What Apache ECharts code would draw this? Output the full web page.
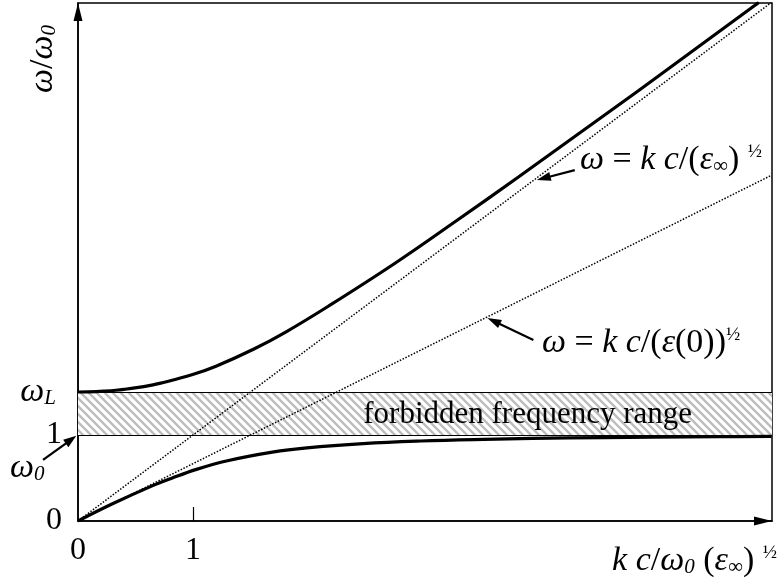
<!DOCTYPE html>
<html>
<head>
<meta charset="utf-8">
<script src="https://cdn.jsdelivr.net/npm/echarts@6/dist/echarts.min.js"></script>
<style>
  html, body { margin: 0; padding: 0; background: #fff; }
  #main { width: 784px; height: 587px; }
</style>
</head>
<body>
<div id="main"></div>
<script>
// Phonon-polariton dispersion: reduced frequency ω/ω0 versus reduced wavevector k c/(ω0 √ε∞)

// Upper polariton branch
const upperX = [0, 0.16, 0.23, 0.33, 0.40, 0.51, 0.64, 0.71, 0.99, 1.20, 1.53, 1.81, 2.18, 2.76, 3.30, 3.83, 4.35, 4.87, 5.38, 5.89, 5.92];
const upperY = [1.5, 1.505, 1.51, 1.52, 1.53, 1.55, 1.58, 1.60, 1.70, 1.80, 2.00, 2.20, 2.50, 3.00, 3.50, 4.00, 4.50, 5.00, 5.50, 6.00, 6.03];

// Lower polariton branch
const lowerX = [0, 0.30, 0.63, 0.82, 1.03, 1.30, 1.69, 1.99, 2.48, 2.98, 3.53, 3.95, 4.57, 5.00, 5.59, 6.03];
const lowerY = [0, 0.20, 0.40, 0.50, 0.60, 0.70, 0.80, 0.85, 0.90, 0.93, 0.95, 0.96, 0.97, 0.975, 0.98, 0.983];

// Light lines: ω = k c/√ε∞ and ω = k c/√ε(0)
const lightInfX = [0, 6.03];
const lightInfY = [0, 6.03];
const lightZeroX = [0, 6.03];
const lightZeroY = [0, 4.02];

// Forbidden band limits (ω0 and ωL)
const bandLow = 1.0;
const bandHigh = 1.5;

// Axis ranges and tick labels
const xMax = 6.035;
const yMax = 6.023;
const xTickValues = [0, 1];
const yTickValues = [0, 1];

const FF = '"Liberation Serif", "Times New Roman", serif';

function pairs(xs, ys) { return xs.map((x, i) => [x, ys[i]]); }

function hatchPattern() {
  const c = document.createElement('canvas');
  c.width = 8; c.height = 8;
  const g = c.getContext('2d');
  g.fillStyle = '#ffffff';
  g.fillRect(0, 0, 8, 8);
  g.strokeStyle = '#bdbdbd';
  g.lineWidth = 2.3;
  g.beginPath();
  g.moveTo(-4, -4); g.lineTo(12, 12);
  g.moveTo(-4, 4); g.lineTo(4, 12);
  g.moveTo(4, -4); g.lineTo(12, 4);
  g.stroke();
  return c;
}

const chart = echarts.init(document.getElementById('main'), null, { renderer: 'canvas' });

const axisLineStyle = { color: '#000', width: 1.5 };

chart.setOption({
  animation: false,
  backgroundColor: '#fff',
  grid: { left: 78, right: 12, top: 3, bottom: 66, show: true, borderColor: '#000', borderWidth: 1.5, backgroundColor: 'transparent' },
  xAxis: {
    type: 'value', min: 0, max: xMax,
    axisLine: { show: true, onZero: false, lineStyle: axisLineStyle, symbol: ['none', 'triangle'], symbolSize: [9, 18], symbolOffset: [0, -9] },
    axisTick: { show: true, inside: true, length: 14, customValues: [1], lineStyle: { color: '#000', width: 1.2 } },
    axisLabel: { customValues: xTickValues, color: '#000', fontFamily: FF, fontSize: 32, margin: 14 },
    splitLine: { show: false }
  },
  yAxis: {
    type: 'value', min: 0, max: yMax,
    axisLine: { show: true, onZero: false, lineStyle: axisLineStyle, symbol: ['none', 'triangle'], symbolSize: [9, 18], symbolOffset: [0, -9] },
    axisTick: { show: false },
    axisLabel: { customValues: yTickValues, color: '#000', fontFamily: FF, fontSize: 32, margin: 16 },
    splitLine: { show: false }
  },
  series: [
    {
      name: 'band', type: 'line', data: [], silent: true,
      markArea: {
        silent: true,
        itemStyle: { color: { image: hatchPattern(), repeat: 'repeat' }, opacity: 1, borderWidth: 0 },
        data: [[{ yAxis: bandLow }, { yAxis: bandHigh }]]
      },
      markLine: {
        silent: true, symbol: 'none', label: { show: false },
        lineStyle: { color: '#000', width: 1.2, type: 'solid', opacity: 1 },
        data: [{ yAxis: bandLow }, { yAxis: bandHigh }]
      }
    },
    {
      name: 'light ε∞', type: 'line', data: pairs(lightInfX, lightInfY), symbol: 'none', z: 3,
      lineStyle: { color: '#000', width: 1.5, type: [1.5, 1.6] }
    },
    {
      name: 'light ε(0)', type: 'line', data: pairs(lightZeroX, lightZeroY), symbol: 'none', z: 3,
      lineStyle: { color: '#000', width: 1.5, type: [1.5, 1.6] }
    },
    {
      name: 'upper', type: 'line', data: pairs(upperX, upperY), symbol: 'none', smooth: 0.4, z: 4,
      lineStyle: { color: '#000', width: 3.2 }
    },
    {
      name: 'lower', type: 'line', data: pairs(lowerX, lowerY), symbol: 'none', smooth: 0.4, z: 4,
      lineStyle: { color: '#000', width: 3.2 }
    }
  ]
});

// Annotation text and arrows
function px(x, y) { return chart.convertToPixel({ gridIndex: 0 }, [x, y]); }

function arrow(p0, p1, head, w) {
  const dx = p1[0] - p0[0], dy = p1[1] - p0[1];
  const L = Math.hypot(dx, dy), ux = dx / L, uy = dy / L;
  const bx = p1[0] - ux * head, by = p1[1] - uy * head;
  return [
    { type: 'line', silent: true, z: 10, shape: { x1: p0[0], y1: p0[1], x2: bx + ux * 2, y2: by + uy * 2 }, style: { stroke: '#000', lineWidth: 2.2 } },
    { type: 'polygon', silent: true, z: 10, shape: { points: [[p1[0], p1[1]], [bx - uy * w / 2, by + ux * w / 2], [bx + uy * w / 2, by - ux * w / 2]] }, style: { fill: '#000' } }
  ];
}

function rich(size) {
  return {
    i: { fontFamily: FF, fontStyle: 'italic', fontSize: size, lineHeight: size, fill: '#000' },
    r: { fontFamily: FF, fontSize: size, lineHeight: size, fill: '#000' },
    sub: { fontFamily: FF, fontSize: Math.round(size * 0.62), lineHeight: 14, verticalAlign: 'bottom', fill: '#000' },
    isub: { fontFamily: FF, fontStyle: 'italic', fontSize: Math.round(size * 0.62), lineHeight: 12, verticalAlign: 'bottom', fill: '#000' },
    sup: { fontFamily: FF, fontSize: Math.round(size * 0.56), lineHeight: 24, verticalAlign: 'top', fill: '#000' }
  };
}

function label(x, y, text, size, align, extra) {
  return Object.assign({
    type: 'text', silent: true, z: 11, x: x, y: y,
    style: { text: text, rich: rich(size), align: align, verticalAlign: 'middle', fontFamily: FF, fontSize: size, fill: '#000' }
  }, extra || {});
}

const FS = 34;
const graphics = [];

// forbidden band caption
const bandMid = px(3.91, (bandLow + bandHigh) / 2);
graphics.push({
  type: 'text', silent: true, z: 11, x: bandMid[0], y: bandMid[1] + 1,
  style: { text: 'forbidden frequency range', fontFamily: FF, fontSize: 31, fill: '#000', align: 'center', verticalAlign: 'middle' }
});

// ωL and ω0 labels on the frequency axis
const wl = px(0, bandHigh);
graphics.push(label(wl[0] - 22, wl[1], '{i|ω}{isub|L}', FS, 'right'));
graphics.push(label(10, 468, '{i|ω}{isub|0}', FS, 'left'));
graphics.push(...arrow(px(-0.304, 0.71), px(-0.015, bandLow - 0.01), 13, 9));

// light-line annotations
graphics.push(label(580, 160, '{i|ω}{r| = }{i|k c}{r|/(}{i|ε}{sub|∞}{r|) }{sup|½}', FS, 'left'));
graphics.push(...arrow(px(4.32, 4.08), px(3.99, 3.965), 14, 9));
graphics.push(label(542, 343, '{i|ω}{r| = }{i|k c}{r|/(}{i|ε}{r|(0))}{sup|½}', FS, 'left'));
graphics.push(...arrow(px(3.96, 2.105), px(3.56, 2.36), 14, 9));

// axis titles
graphics.push(label(777, 561, '{i|k c}{r|/}{i|ω}{isub|0}{r| (}{i|ε}{sub|∞}{r|) }{sup|½}', FS, 'right'));
graphics.push(label(43, 59, '{i|ω}{r|/}{i|ω}{isub|0}', FS, 'center', { rotation: Math.PI / 2 }));

chart.setOption({ graphic: graphics });
</script>
</body>
</html>
